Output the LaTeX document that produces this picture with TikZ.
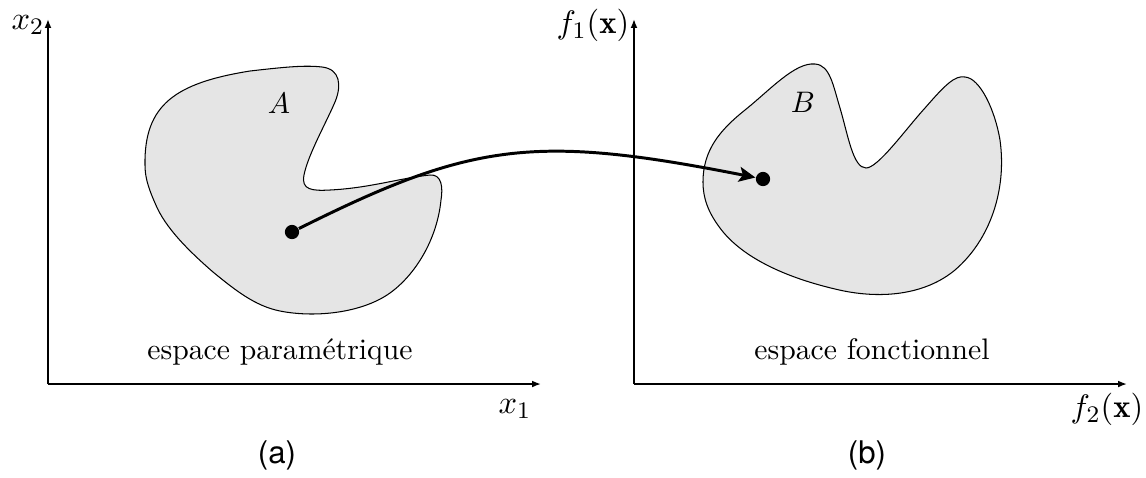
\documentclass[tikz,border=0pt]{standalone}
\usepackage{fontspec}
\newfontfamily\labelfont{TeX Gyre Heros}
\usetikzlibrary{arrows.meta}
\definecolor{regiongray}{RGB}{229,229,229}
\tikzset{
  axis/.style={line width=0.55pt,-{Latex[length=3pt,width=2.3pt]}},
  region/.style={fill=regiongray,draw=black,line width=0.35pt},
  dot/.style={circle,fill=black,inner sep=0pt,minimum size=4.8pt},
  maparrow/.style={line width=1pt,-{Stealth[length=5.5pt,width=5pt,inset=1.2pt]}},
  sublabel/.style={font=\labelfont\fontsize{10.5}{12}\selectfont},
  axislabel/.style={font=\fontsize{11}{13}\selectfont},
}
\begin{document}
\begin{tikzpicture}[x=0.3367pt,y=-0.3367pt]
\useasboundingbox (0,0) rectangle (1146,477);
% axes
\coordinate (oa) at (48,384);
\coordinate (oa-x) at (541,384);
\coordinate (oa-y) at (48,19);
\coordinate (ob) at (634,384);
\coordinate (ob-x) at (1127,384);
\coordinate (ob-y) at (634,19);
\draw[axis] (oa) -- (oa-x);
\draw[axis] (oa) -- (oa-y);
\draw[axis] (ob) -- (ob-x);
\draw[axis] (ob) -- (ob-y);
% region A
\draw[region] (145,165)
  .. controls (144,105) and (175,83) .. (250,71)
  .. controls (285,67) and (305,65) .. (322,67)
  .. controls (340,69) and (342,85) .. (335,102)
  .. controls (325,125) and (308,155) .. (304,175)
  .. controls (301,190) and (312,191) .. (330,190)
  .. controls (370,188) and (400,178) .. (430,175)
  .. controls (442,174) and (443,188) .. (441,200)
  .. controls (437,240) and (415,275) .. (390,293)
  .. controls (362,313) and (315,318) .. (280,311)
  .. controls (255,306) and (235,290) .. (213,272)
  .. controls (190,252) and (165,228) .. (155,203)
  .. controls (147,185) and (145,175) .. (145,165) -- cycle;
% region B
\draw[region] (703,182)
  .. controls (703,150) and (720,130) .. (745,110)
  .. controls (770,90) and (795,62) .. (815,64)
  .. controls (830,65) and (833,85) .. (840,108)
  .. controls (848,135) and (853,168) .. (866,168)
  .. controls (878,168) and (905,130) .. (925,108)
  .. controls (945,85) and (955,75) .. (965,77)
  .. controls (980,78) and (995,110) .. (1000,140)
  .. controls (1007,190) and (990,240) .. (955,270)
  .. controls (925,295) and (880,300) .. (835,289)
  .. controls (780,276) and (740,255) .. (720,228)
  .. controls (708,212) and (703,198) .. (703,182) -- cycle;
% labels
\node (la) at (279,103) {$A$};
\node (lb) at (803,102) {$B$};
\node (ta) at (280,352) {espace paramétrique};
\node (tb) at (872,352) {espace fonctionnel};
\node[axislabel] (x2) at (28,25) {$x_2$};
\node[axislabel] (f1) at (593,25) {$f_1(\mathbf{x})$};
\node[axislabel] (x1) at (515,409) {$x_1$};
\node[axislabel] (f2) at (1107,409) {$f_2(\mathbf{x})$};
\node[sublabel] (sa) at (277,455) {(a)};
\node[sublabel] (sb) at (867,455) {(b)};
% points and mapping
\node[dot] (pa) at (292,232) {};
\node[dot] (pb) at (763,179) {};
\draw[maparrow] (pa) .. controls (472,142) and (535,134) .. (pb);
\end{tikzpicture}
\end{document}
